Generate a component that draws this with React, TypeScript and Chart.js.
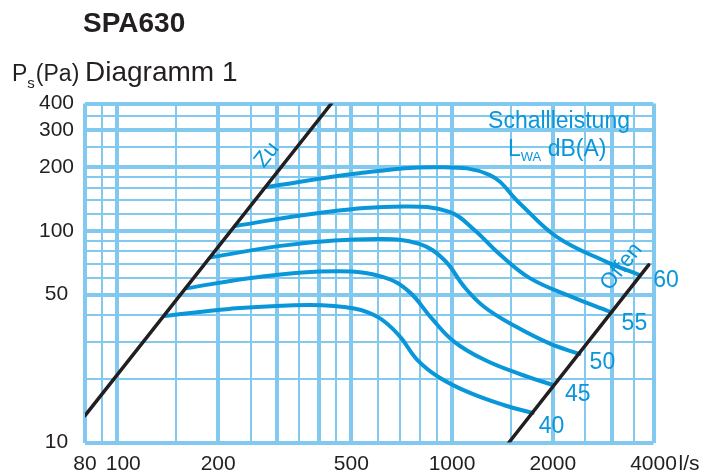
import React, { useEffect, useRef } from 'react';
import { Chart, registerables } from 'chart.js';

Chart.register(...registerables);

// Volume flow axis (l/s)
const flowGrid = [80, 90, 100, 150, 200, 250, 300, 350, 400, 450, 500, 600, 700, 800, 900, 1000, 1500, 2000, 2500, 3000, 3500, 4000];
const flowMajor = [80, 100, 200, 300, 400, 500, 1000, 2000, 3000, 4000];
const flowLabels = [80, 100, 200, 500, 1000, 2000, 4000];

// Static pressure axis (Pa)
const pressureGrid = [10, 20, 30, 40, 50, 60, 70, 80, 90, 100, 120, 140, 160, 180, 200, 250, 300, 350, 400];
const pressureMajor = [10, 50, 100, 200, 300, 400];
const pressureLabels = [10, 50, 100, 200, 300, 400];

// Damper system lines: closed ("Zu") and open ("Offen")
const closedFlow = [80, 436];
const closedPressure = [13.4, 400];
const openFlow = [1479, 3870];
const openPressure = [10, 69.1];

// Sound power level curves L_WA dB(A)
const soundLevels = [40, 45, 50, 55, 60];

const flow40 = [138, 216, 375, 510, 606, 696, 787, 916, 1127, 1433, 1741];
const pressure40 = [39.6, 42.8, 44.7, 43, 38.8, 31.9, 24.6, 20.3, 17.2, 15, 13.8];

const flow45 = [160, 265, 460, 627, 745, 867, 1016, 1249, 1589, 2000];
const pressure45 = [53.5, 60.6, 64.4, 60.3, 51.5, 38.8, 29.9, 24.6, 21.1, 18.7];

const flow50 = [190, 326, 606, 798, 948, 1088, 1249, 1536, 1954, 2402];
const pressure50 = [75, 85.9, 91.5, 86.8, 72.9, 54.4, 43.7, 35.6, 29.4, 26.2];

const flow55 = [225, 401, 720, 982, 1166, 1385, 1703, 2242, 2953];
const pressure55 = [105.5, 121.6, 130.5, 123, 101, 77.8, 60, 49.3, 41.6];

const flow60 = [278, 528, 916, 1293, 1589, 2050, 2893, 3620];
const pressure60 = [161, 187.4, 200, 184, 135.6, 94, 71.4, 62];

const levelFlows = [flow40, flow45, flow50, flow55, flow60];
const levelPressures = [pressure40, pressure45, pressure50, pressure55, pressure60];

const FONT = '"Liberation Sans", Arial, Helvetica, sans-serif';
const INK = '#231f20';
const BLUE = '#0a97da';
const GRID = '#82c9ef';

// Placement of the level numbers relative to each curve's end point (px)
const levelLabelOffsets = [
  [19, 14],
  [25, 10],
  [23, 9],
  [25, 12],
  [27, 6],
];

const toPoints = (xs: number[], ys: number[]) => xs.map((x, i) => ({ x, y: ys[i] }));

const textPlugin = {
  id: 'diagramText',
  afterDraw(chart: any) {
    const { ctx, chartArea } = chart;
    const x = chart.scales.x;
    const y = chart.scales.y;
    ctx.save();

    // Header
    ctx.fillStyle = INK;
    ctx.textAlign = 'left';
    ctx.textBaseline = 'alphabetic';
    ctx.font = `bold 28px ${FONT}`;
    ctx.fillText('SPA630', 83, 32);
    ctx.font = `28px ${FONT}`;
    ctx.fillText('Diagramm 1', chartArea.left, 81);

    // Pressure unit: P_s(Pa)
    let cx = 12;
    ctx.font = `23px ${FONT}`;
    ctx.fillText('P', cx, 81);
    cx += ctx.measureText('P').width;
    ctx.font = `15px ${FONT}`;
    ctx.fillText('s', cx, 88);
    cx += ctx.measureText('s').width + 1;
    ctx.font = `23px ${FONT}`;
    ctx.fillText('(Pa)', cx, 81);

    // Flow unit
    ctx.font = `21px ${FONT}`;
    ctx.fillText('l/s', chartArea.right + 25, 470);

    // Legend title
    ctx.fillStyle = BLUE;
    ctx.font = `23px ${FONT}`;
    ctx.textAlign = 'center';
    ctx.fillText('Schallleistung', 559, 128);
    ctx.textAlign = 'left';
    let lx = 508;
    ctx.fillText('L', lx, 156);
    lx += ctx.measureText('L').width;
    ctx.font = `13px ${FONT}`;
    ctx.fillText('WA', lx, 161);
    lx += ctx.measureText('WA').width;
    ctx.font = `23px ${FONT}`;
    ctx.fillText(' dB(A)', lx, 156);

    // Damper line captions, rotated along the lines
    const drawAlong = (text: string, px: number, py: number, angle: number) => {
      ctx.save();
      ctx.translate(px, py);
      ctx.rotate(angle);
      ctx.textAlign = 'center';
      ctx.textBaseline = 'middle';
      ctx.font = `22px ${FONT}`;
      ctx.fillText(text, 0, 0);
      ctx.restore();
    };
    const angleOf = (fx: number[], fy: number[]) => {
      const dx = x.getPixelForValue(fx[1]) - x.getPixelForValue(fx[0]);
      const dy = y.getPixelForValue(fy[1]) - y.getPixelForValue(fy[0]);
      return Math.atan2(dy, dx);
    };
    const zuX = x.getPixelForValue(330);
    const zuY = y.getPixelForValue(228.6);
    drawAlong('Zu', zuX - 24, zuY, angleOf(closedFlow, closedPressure));
    const ofX = x.getPixelForValue(3813);
    const ofY = y.getPixelForValue(67.6);
    drawAlong('Offen', ofX - 25, ofY, angleOf(openFlow, openPressure));

    // Level numbers next to the curve ends
    ctx.font = `23px ${FONT}`;
    ctx.textAlign = 'center';
    ctx.textBaseline = 'middle';
    soundLevels.forEach((level, i) => {
      const fl = levelFlows[i];
      const pr = levelPressures[i];
      const ex = x.getPixelForValue(fl[fl.length - 1]);
      const ey = y.getPixelForValue(pr[pr.length - 1]);
      const [dx, dy] = levelLabelOffsets[i];
      ctx.fillText(String(level), ex + dx, ey + dy);
    });

    ctx.restore();
  },
};

export default function App() {
  const canvasRef = useRef<HTMLCanvasElement | null>(null);

  useEffect(() => {
    const canvas = canvasRef.current;
    if (!canvas) return;

    const curveSets = soundLevels.map((level, i) => ({
      label: String(level),
      data: toPoints(levelFlows[i], levelPressures[i]),
      borderColor: BLUE,
      borderWidth: 4,
      pointRadius: 0,
      fill: false,
      tension: 0.4,
      borderCapStyle: 'round',
    }));

    const chart = new Chart(canvas, {
      type: 'line',
      data: {
        datasets: [
          {
            label: 'Zu',
            data: toPoints(closedFlow, closedPressure),
            borderColor: INK,
            borderWidth: 3.5,
            pointRadius: 0,
            tension: 0,
            borderCapStyle: 'round',
          },
          {
            label: 'Offen',
            data: toPoints(openFlow, openPressure),
            borderColor: INK,
            borderWidth: 3.5,
            pointRadius: 0,
            tension: 0,
            borderCapStyle: 'round',
          },
          ...curveSets,
        ] as any,
      },
      options: {
        animation: false,
        responsive: false,
        maintainAspectRatio: false,
        events: [],
        layout: { padding: { top: 103.5, right: 64.5, left: 0, bottom: 0 } },
        plugins: {
          legend: { display: false },
          tooltip: { enabled: false },
          title: { display: false },
        },
        scales: {
          x: {
            type: 'logarithmic',
            min: 80,
            max: 4000,
            afterBuildTicks: (s: any) => {
              s.ticks = flowGrid.map((v) => ({ value: v }));
            },
            afterFit: (s: any) => {
              s.height = 31.5;
            },
            grid: {
              color: GRID,
              drawTicks: false,
              lineWidth: (c: any) => (flowMajor.includes(c.tick?.value) ? 4 : 2),
            },
            border: { display: false },
            ticks: {
              autoSkip: false,
              maxRotation: 0,
              minRotation: 0,
              padding: 9,
              color: INK,
              font: { family: FONT, size: 21 },
              callback: (v: any) => {
                const n = Number(v);
                if (!flowLabels.includes(n)) return '';
                return n === 100 ? '  100' : String(n);
              },
            },
          },
          y: {
            type: 'logarithmic',
            min: 10,
            max: 400,
            afterBuildTicks: (s: any) => {
              s.ticks = pressureGrid.map((v) => ({ value: v }));
            },
            afterFit: (s: any) => {
              s.width = 85;
            },
            grid: {
              color: GRID,
              drawTicks: false,
              lineWidth: (c: any) => (pressureMajor.includes(c.tick?.value) ? 4 : 2),
            },
            border: { display: false },
            ticks: {
              autoSkip: false,
              crossAlign: 'center',
              padding: 11,
              color: INK,
              font: { family: FONT, size: 21 },
              callback: (v: any) => {
                const n = Number(v);
                return pressureLabels.includes(n) ? String(n) : '';
              },
            },
          },
        },
      } as any,
      plugins: [textPlugin],
    });

    return () => chart.destroy();
  }, []);

  return (
    <div style={{ position: 'fixed', left: 0, top: 0, width: 718, height: 474, background: '#ffffff' }}>
      <canvas ref={canvasRef} width={718} height={474} style={{ display: 'block', width: 718, height: 474 }} />
    </div>
  );
}
